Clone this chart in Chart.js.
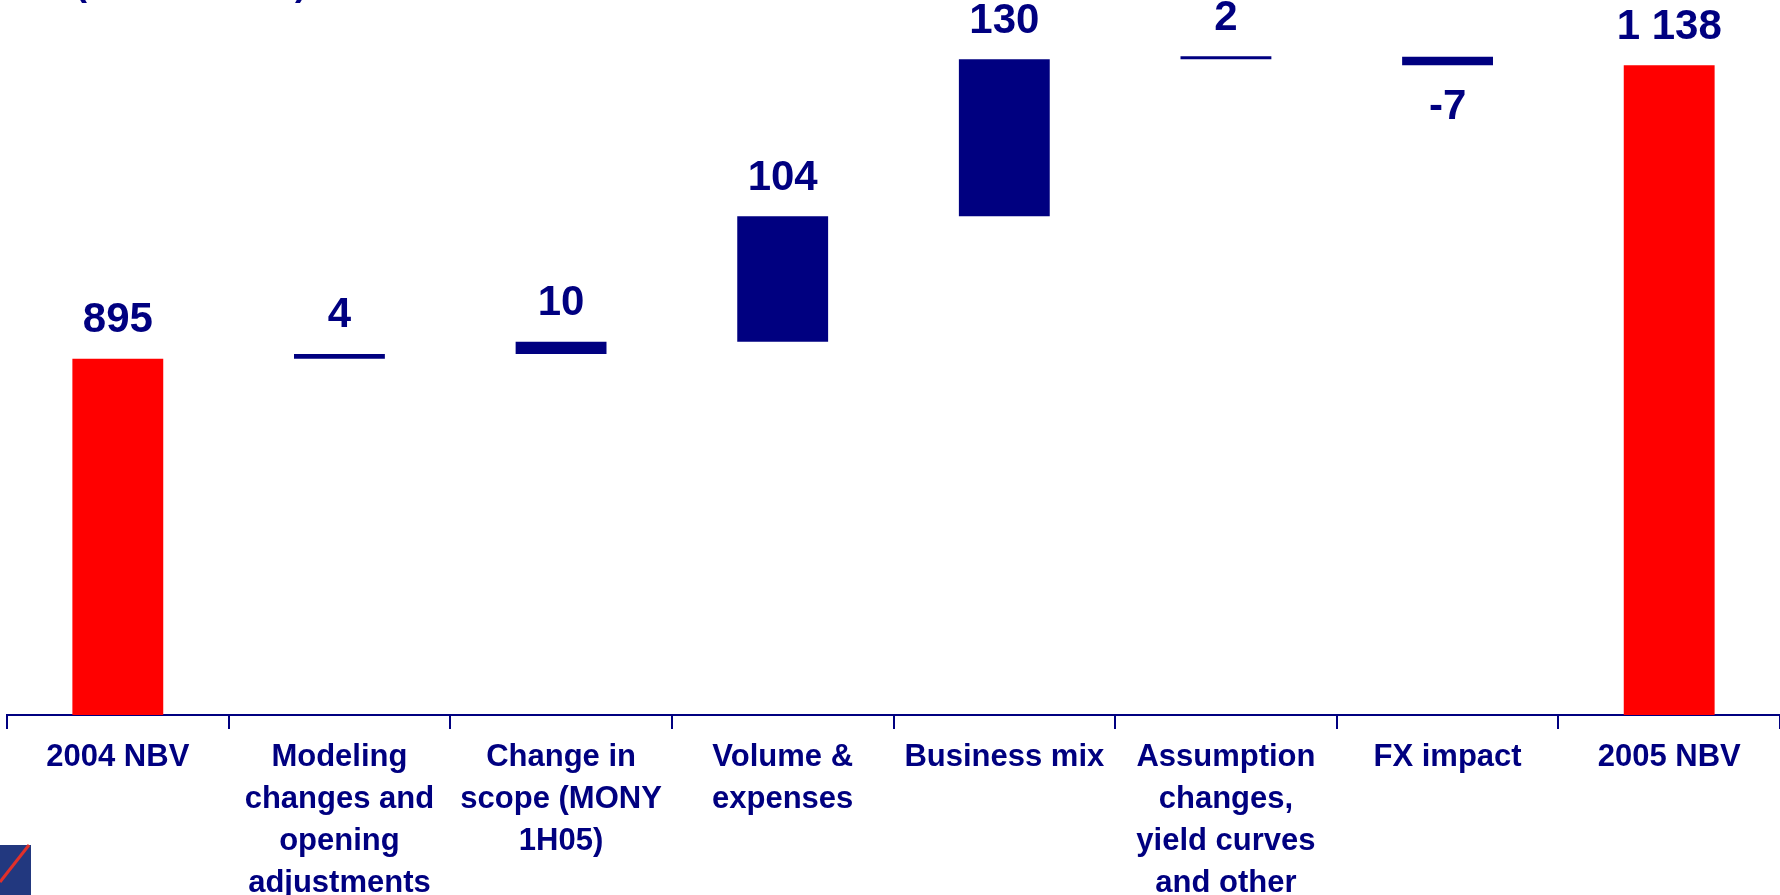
<!DOCTYPE html>
<html>
<head>
<meta charset="utf-8">
<script src="https://cdn.jsdelivr.net/npm/chart.js@4"></script>
<style>
  html, body { margin: 0; padding: 0; background: #fff; }
  canvas { display: block; }
</style>
</head>
<body>
<canvas id="chart-1" width="1780" height="895"></canvas>
<script>
  // Données du graphique
  const categories = [
    '2004 NBV',
    ['Modeling', 'changes and', 'opening', 'adjustments'],
    ['Change in', 'scope (MONY', '1H05)'],
    ['Volume &', 'expenses'],
    'Business mix',
    ['Assumption', 'changes,', 'yield curves', 'and other'],
    'FX impact',
    '2005 NBV'
  ];
  const deltas = [895, 4, 10, 104, 130, 2, -7, 1138];
  const isTotal = [true, false, false, false, false, false, false, true];

  const navy = '#000080';
  const red = '#FF0000';

  // construction des barres flottantes
  const ranges = [];
  let running = 0;
  deltas.forEach((d, i) => {
    if (isTotal[i]) {
      ranges.push([0, d]);
      running = d;
    } else {
      ranges.push([running, running + d]);
      running += d;
    }
  });

  function fmt(v) {
    return String(v).replace(/\B(?=(\d{3})+(?!\d))/g, ' ');
  }

  // étiquettes de valeurs + décorations
  const valueLabels = {
    id: 'valueLabels',
    afterDatasetsDraw(chart) {
      const c = chart.ctx;
      const meta = chart.getDatasetMeta(0);
      c.save();
      c.fillStyle = navy;
      c.font = 'bold 42px "Liberation Sans", Arial, sans-serif';
      c.textAlign = 'center';
      c.textBaseline = 'middle';
      meta.data.forEach((bar, i) => {
        const top = Math.min(bar.y, bar.base);
        const bottom = Math.max(bar.y, bar.base);
        if (deltas[i] < 0) {
          c.fillText(fmt(deltas[i]), bar.x, bottom + 42);
        } else {
          c.fillText(fmt(deltas[i]), bar.x, top - 38);
        }
      });
      // titre coupé en haut
      c.textAlign = 'left';
      c.textBaseline = 'alphabetic';
      c.font = 'bold 36px "Liberation Sans", Arial, sans-serif';
      c.fillText('(Euro million)', 75, -5);
      // petit logo en bas à gauche
      c.fillStyle = '#22387f';
      c.fillRect(0, 845, 31, 50);
      c.strokeStyle = '#e0302a';
      c.lineWidth = 3;
      c.beginPath();
      c.moveTo(0, 882);
      c.lineTo(29, 845);
      c.stroke();
      c.restore();
    }
  };

  const ctx = document.getElementById('chart-1');
  new Chart(ctx, {
    type: 'bar',
    data: {
      labels: categories,
      datasets: [{
        data: ranges,
        backgroundColor: isTotal.map(t => t ? red : navy),
        borderWidth: 0,
        barPercentage: 0.41,
        categoryPercentage: 1,
        minBarLength: 3
      }]
    },
    options: {
      responsive: false,
      animation: false,
      devicePixelRatio: 1,
      layout: { padding: { left: 7, right: 0, top: 0, bottom: 0 } },
      plugins: {
        legend: { display: false },
        tooltip: { enabled: false }
      },
      scales: {
        x: {
          afterFit(scale) { scale.height = 180; },
          border: { display: true, color: navy, width: 2 },
          grid: {
            offset: true,
            drawOnChartArea: false,
            drawTicks: true,
            tickLength: 14,
            color: navy,
            lineWidth: 2
          },
          ticks: {
            color: navy,
            padding: 8,
            maxRotation: 0,
            autoSkip: false,
            font: { family: '"Liberation Sans", Arial, sans-serif', size: 31, weight: 'bold', lineHeight: 1.35 }
          }
        },
        y: {
          display: false,
          min: 600,
          max: 1192
        }
      }
    },
    plugins: [valueLabels]
  });
</script>
</body>
</html>
